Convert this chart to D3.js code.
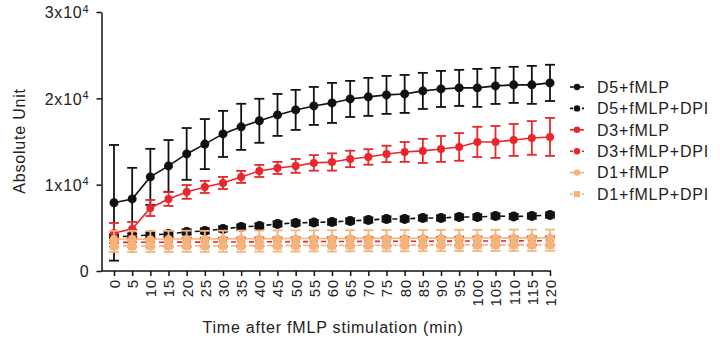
<!DOCTYPE html>
<html>
<head>
<meta charset="utf-8">
<script src="https://cdn.jsdelivr.net/npm/d3@7"></script>
<style>
    body { margin: 0; background: #fff; }
    svg { font-family: Arial, "Liberation Sans", sans-serif; }
    .lbl { letter-spacing: 0.8px; fill: #222; }
</style>
</head>
<body>
<svg id="chart" width="720" height="339"></svg>
<script>
// time points (min)
const times = [0, 5, 10, 15, 20, 25, 30, 35, 40, 45, 50, 55, 60, 65, 70, 75, 80, 85, 90, 95, 100, 105, 110, 115, 120];

const d5Mean = [7900, 8350, 10900, 12170, 13560, 14700, 15880, 16700, 17400, 18080, 18660, 19120, 19470, 19930, 20170, 20400, 20510, 20860, 21090, 21210, 21210, 21440, 21560, 21560, 21790];
const d5Sd   = [6700, 3600, 3250, 3000, 3000, 2900, 2670, 2670, 2550, 2430, 2320, 2200, 2320, 2090, 2200, 2200, 2200, 2090, 2090, 2090, 2200, 2090, 2090, 2200, 2100];

const d5DpiMean = [3940, 4060, 4170, 4290, 4520, 4640, 4870, 5100, 5220, 5450, 5560, 5620, 5680, 5800, 5910, 6030, 6030, 6140, 6140, 6260, 6260, 6370, 6320, 6370, 6490];
const d5DpiSd   = [300, 300, 300, 300, 300, 300, 300, 300, 300, 300, 300, 300, 300, 300, 300, 300, 300, 300, 300, 300, 300, 300, 300, 300, 300];

const d3Mean = [4400, 4870, 7300, 8340, 9160, 9740, 10200, 10900, 11590, 11940, 12170, 12520, 12630, 12980, 13210, 13560, 13790, 13910, 14140, 14370, 14950, 14950, 15180, 15410, 15530];
const d3Sd   = [1160, 810, 930, 800, 800, 700, 700, 700, 700, 700, 800, 900, 1000, 950, 900, 950, 1150, 1400, 1500, 1600, 1750, 1850, 1850, 1950, 2200];

const d3DpiMean = [3300, 3320, 3330, 3340, 3350, 3350, 3360, 3370, 3380, 3390, 3400, 3410, 3420, 3420, 3430, 3440, 3450, 3450, 3460, 3470, 3480, 3480, 3490, 3500, 3500];
const d3DpiSd   = [500, 500, 500, 500, 500, 500, 500, 500, 500, 500, 500, 500, 500, 500, 500, 500, 500, 500, 500, 500, 500, 500, 500, 500, 500];

const d1Mean = [3700, 3700, 3680, 3700, 3720, 3700, 3720, 3730, 3740, 3750, 3760, 3760, 3770, 3780, 3780, 3790, 3800, 3800, 3810, 3820, 3820, 3830, 3840, 3840, 3850];
const d1Sd   = [950, 950, 950, 950, 950, 950, 950, 950, 950, 950, 950, 950, 950, 950, 950, 950, 950, 950, 950, 950, 950, 950, 950, 950, 950];

const d1DpiMean = [2900, 2900, 2900, 2910, 2920, 2920, 2930, 2930, 2940, 2950, 2950, 2960, 2960, 2970, 2980, 2980, 2990, 3000, 3000, 3010, 3010, 3020, 3020, 3030, 3040];
const d1DpiSd   = [700, 700, 700, 700, 700, 700, 700, 700, 700, 700, 700, 700, 700, 700, 700, 700, 700, 700, 700, 700, 700, 700, 700, 700, 700];

const seriesNames = ["D5+fMLP", "D5+fMLP+DPI", "D3+fMLP", "D3+fMLP+DPI", "D1+fMLP", "D1+fMLP+DPI"];
const yTicks = [0, 10000, 20000, 30000];

const series = [
    {name: seriesNames[0], mean: d5Mean, sd: d5Sd, color: "#111", dash: null, shape: "circle", r: 4.5},
    {name: seriesNames[1], mean: d5DpiMean, sd: d5DpiSd, color: "#111", dash: "5,4", shape: "circle", r: 5},
    {name: seriesNames[2], mean: d3Mean, sd: d3Sd, color: "#e8262b", dash: null, shape: "circle", r: 4},
    {name: seriesNames[3], mean: d3DpiMean, sd: d3DpiSd, color: "#e8262b", dash: "5,4", shape: "circle", r: 4},
    {name: seriesNames[4], mean: d1Mean, sd: d1Sd, color: "#f4b47b", dash: null, shape: "circle", r: 4},
    {name: seriesNames[5], mean: d1DpiMean, sd: d1DpiSd, color: "#f4b47b", dash: "5,4", shape: "square", r: 4.2}
];

const svg = d3.select("#chart");

const x = d3.scaleLinear().domain([0, 120]).range([114, 550]);
const y = d3.scaleLinear().domain([0, 30000]).range([271, 12]);
const axisLeftX = 101.5;

// y axis
const yAxis = svg.append("g")
    .attr("transform", `translate(${axisLeftX},0)`)
    .call(d3.axisLeft(y).tickValues(yTicks).tickSize(5).tickSizeOuter(0).tickFormat(""));
yAxis.select(".domain").attr("stroke", "#111").attr("stroke-width", 1.5);
yAxis.selectAll(".tick line").attr("stroke", "#111").attr("stroke-width", 1.5);
yAxis.selectAll(".tick").each(function(d) {
    const t = d3.select(this).append("text")
        .attr("class", "lbl")
        .attr("x", -12).attr("dy", "0.36em")
        .attr("text-anchor", "end")
        .style("font-size", "16px");
    if (d === 0) {
        t.text("0");
    } else {
        t.append("tspan").text((d / 10000) + "x10");
        t.append("tspan").attr("dy", "-0.5em").style("font-size", "11px").text("4");
    }
});

// x axis
const xAxis = svg.append("g")
    .attr("transform", `translate(0,${y(0)})`)
    .call(d3.axisBottom(x).tickValues(times).tickSize(5).tickSizeOuter(0));
xAxis.select(".domain").attr("d", `M${axisLeftX},0H${x(120) + 1}`).attr("stroke", "#111").attr("stroke-width", 1.5);
xAxis.selectAll(".tick line").attr("stroke", "#111").attr("stroke-width", 1.5);
xAxis.selectAll(".tick text")
    .attr("class", "lbl")
    .attr("transform", "rotate(-90)")
    .attr("text-anchor", "end")
    .attr("x", -8).attr("y", 0).attr("dy", "0.36em")
    .style("font-size", "15px")
    .style("font-family", "Arial, 'Liberation Sans', sans-serif");

// axis titles
svg.append("text")
    .attr("class", "lbl")
    .attr("x", 333).attr("y", 333)
    .attr("text-anchor", "middle")
    .style("font-size", "16px")
    .text("Time after fMLP stimulation (min)");

svg.append("text")
    .attr("class", "lbl")
    .attr("transform", "translate(25,141) rotate(-90)")
    .attr("text-anchor", "middle")
    .style("font-size", "16px")
    .text("Absolute Unit");

// series
const line = d3.line().x((d, i) => x(times[i])).y(d => y(d));
const capW = 5;

series.forEach(s => {
    const g = svg.append("g");

    g.append("path")
        .attr("d", line(s.mean))
        .attr("fill", "none")
        .attr("stroke", s.color)
        .attr("stroke-width", 1.6)
        .attr("stroke-dasharray", s.dash);

    const bars = g.selectAll(".err").data(s.mean).join("g").attr("class", "err");
    bars.append("line")
        .attr("x1", (d, i) => x(times[i])).attr("x2", (d, i) => x(times[i]))
        .attr("y1", (d, i) => y(d - s.sd[i])).attr("y2", (d, i) => y(d + s.sd[i]));
    bars.append("line")
        .attr("x1", (d, i) => x(times[i]) - capW).attr("x2", (d, i) => x(times[i]) + capW)
        .attr("y1", (d, i) => y(d + s.sd[i])).attr("y2", (d, i) => y(d + s.sd[i]));
    bars.append("line")
        .attr("x1", (d, i) => x(times[i]) - capW).attr("x2", (d, i) => x(times[i]) + capW)
        .attr("y1", (d, i) => y(d - s.sd[i])).attr("y2", (d, i) => y(d - s.sd[i]));
    bars.selectAll("line").attr("stroke", s.color).attr("stroke-width", 1.8);

    if (s.shape === "circle") {
        g.selectAll(".pt").data(s.mean).join("circle").attr("class", "pt")
            .attr("cx", (d, i) => x(times[i])).attr("cy", d => y(d))
            .attr("r", s.r).attr("fill", s.color);
    } else {
        g.selectAll(".pt").data(s.mean).join("rect").attr("class", "pt")
            .attr("x", (d, i) => x(times[i]) - s.r).attr("y", d => y(d) - s.r)
            .attr("width", s.r * 2).attr("height", s.r * 2).attr("fill", s.color);
    }
});

// legend
const legend = svg.append("g").attr("transform", "translate(570,87)");
series.forEach((s, i) => {
    const row = legend.append("g").attr("transform", `translate(0,${i * 21.4})`);
    row.append("line")
        .attr("x1", 0).attr("x2", 14).attr("y1", 0).attr("y2", 0)
        .attr("stroke", s.color).attr("stroke-width", 1.6)
        .attr("stroke-dasharray", s.dash ? "3,3" : null);
    if (s.shape === "circle") {
        row.append("circle").attr("cx", 7).attr("cy", 0).attr("r", 3.2).attr("fill", s.color);
    } else {
        row.append("rect").attr("x", 4).attr("y", -3).attr("width", 6).attr("height", 6).attr("fill", s.color);
    }
    row.append("text")
        .attr("class", "lbl")
        .attr("x", 27).attr("dy", "0.36em")
        .style("font-size", "16px")
        .text(s.name);
});
</script>
</body>
</html>
